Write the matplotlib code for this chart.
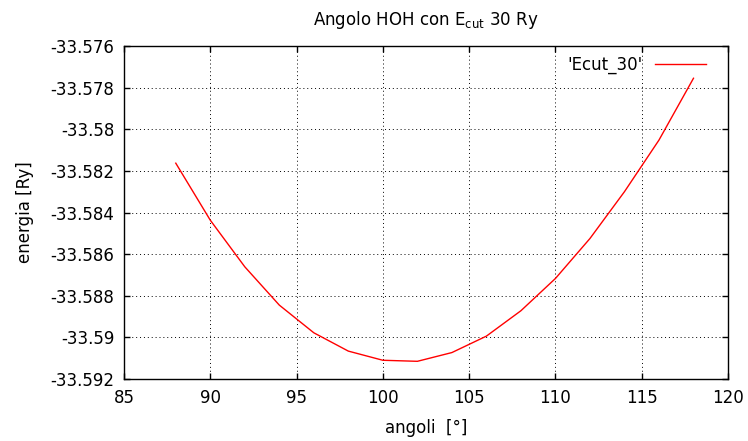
import matplotlib
matplotlib.use("Agg")
import matplotlib.pyplot as plt
from matplotlib.ticker import FuncFormatter

angoli = [88, 90, 92, 94, 96, 98, 100, 102, 104, 106, 108, 110, 112, 114, 116, 118]
energia = [-33.58163, -33.58437, -33.58661, -33.58845, -33.58978, -33.59066,
           -33.59110, -33.59115, -33.59073, -33.58994, -33.58872, -33.58717,
           -33.58525, -33.58300, -33.58052, -33.57755]

xticks = [85, 90, 95, 100, 105, 110, 115, 120]
yticks = [-33.592, -33.59, -33.588, -33.586, -33.584, -33.582, -33.58, -33.578, -33.576]

plt.rcParams['font.family'] = 'DejaVu Sans'
plt.rcParams['font.size'] = 12

fig = plt.figure(figsize=(7.48, 4.41), dpi=100)
ax = fig.add_axes([124 / 748, 1 - 379 / 441, (728 - 124) / 748, (379 - 46) / 441])

ax.plot(angoli, energia, color='red', lw=1, label="'Ecut_30'")

ax.set_xlim(85, 120)
ax.set_ylim(-33.592, -33.576)
ax.set_xticks(xticks)
ax.set_yticks(yticks)
ax.yaxis.set_major_formatter(FuncFormatter(lambda v, p: '%g' % round(v, 6)))
ax.tick_params(direction='in', top=True, right=True, length=4, width=1,
               labelsize=12, pad=7)
ax.grid(True, color='black', linestyle=(0, (1, 3)), lw=0.7)
for s in ax.spines.values():
    s.set_linewidth(1)

ax.set_xlabel('angoli  [°]', fontsize=12, labelpad=9)
ax.set_ylabel('energia [Ry]', fontsize=12, labelpad=12)
ax.set_title(r'Angolo HOH con E$_\mathregular{cut}$ 30 Ry', fontsize=12, pad=15)

leg = ax.legend(loc='upper right', frameon=False, markerfirst=False,
                fontsize=12, handlelength=3.1, handletextpad=0.7,
                borderaxespad=0.0, bbox_to_anchor=(1 - 15 / 604, 1 - 3 / 333))

fig.savefig('out.png', dpi=100)
